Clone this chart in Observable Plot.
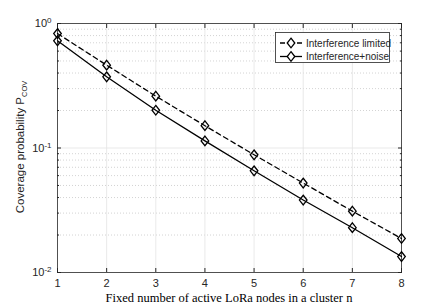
<!DOCTYPE html>
<html>
<head>
<meta charset="utf-8">
<script src="https://cdn.jsdelivr.net/npm/d3@7"></script>
<script src="https://cdn.jsdelivr.net/npm/@observablehq/plot@0.6"></script>
<style>
  html, body { margin: 0; padding: 0; background: #fff; }
  #chart svg { display: block; }
</style>
</head>
<body>
<div id="chart"></div>
<script>
// ---- data ----
const nodes = [1, 2, 3, 4, 5, 6, 7, 8];
const interferenceLimited = [0.83, 0.463, 0.261, 0.151, 0.0882, 0.0523, 0.0311, 0.01875];
const interferenceNoise   = [0.726, 0.373, 0.201, 0.114, 0.0656, 0.0382, 0.0229, 0.01343];
const seriesNames = ["Interference limited", "Interference+noise"];
const yMajorTicks = [0.01, 0.1, 1];
const yTickExponents = ["-2", "-1", "0"];
const yMinorTicks = [0.01, 0.1].flatMap(d => [2,3,4,5,6,7,8,9].map(k => d * k));
const xLabel = "Fixed number of active LoRa nodes in a cluster n";
const yLabelMain = "Coverage probability P";
const yLabelSub = "COV";

const limitedRows = nodes.map((n, i) => ({n, p: interferenceLimited[i]}));
const noiseRows = nodes.map((n, i) => ({n, p: interferenceNoise[i]}));

const tallDiamond = {
  draw(ctx, size) {
    const r = Math.sqrt(size / Math.PI);
    const w = r * 0.95, h = r * 1.2;
    ctx.moveTo(0, -h); ctx.lineTo(w, 0); ctx.lineTo(0, h); ctx.lineTo(-w, 0); ctx.closePath();
  }
};

const axisColor = "#262626";
const font = "'Liberation Sans', Arial, sans-serif";

const chart = Plot.plot({
  width: 443,
  height: 305,
  marginLeft: 57,
  marginRight: 42,
  marginTop: 23,
  marginBottom: 33,
  style: {fontFamily: font, fontSize: "11px", color: axisColor, background: "#fff"},
  x: {domain: [1, 8]},
  y: {type: "log", domain: [0.01, 1]},
  marks: [
    Plot.ruleY(yMinorTicks, {stroke: "#c8c8c8", strokeWidth: 0.8, strokeDasharray: "1,2"}),
    Plot.ruleY([0.1], {stroke: "#e3e3e3", strokeWidth: 0.8}),
    Plot.ruleX(nodes.slice(1, -1), {stroke: "#e3e3e3", strokeWidth: 0.8}),
    Plot.frame({stroke: axisColor, strokeWidth: 0.8}),
    Plot.axisX(nodes, {anchor: "bottom", tickSize: -4, tickPadding: 11, label: null, stroke: axisColor, fill: axisColor, fontSize: 11}),
    Plot.axisX(nodes, {anchor: "top", tickSize: -4, tickFormat: () => "", label: null, stroke: axisColor}),
    Plot.axisY(yMajorTicks, {anchor: "left", tickSize: -4, tickPadding: 10, label: null, stroke: axisColor, fill: axisColor, fontSize: 11,
      tickFormat: d => "10^" + yTickExponents[yMajorTicks.indexOf(d)]}),
    Plot.axisY(yMinorTicks, {anchor: "left", tickSize: -2, tickFormat: () => "", label: null, stroke: axisColor}),
    Plot.axisY(yMajorTicks, {anchor: "right", tickSize: -4, tickFormat: () => "", label: null, stroke: axisColor}),
    Plot.axisY(yMinorTicks, {anchor: "right", tickSize: -2, tickFormat: () => "", label: null, stroke: axisColor}),
    Plot.line(limitedRows, {x: "n", y: "p", stroke: "#000", strokeWidth: 1.3, strokeDasharray: "5,3.5"}),
    Plot.line(noiseRows, {x: "n", y: "p", stroke: "#000", strokeWidth: 1.3}),
    Plot.dot(limitedRows, {x: "n", y: "p", symbol: tallDiamond, r: 4, stroke: "#000", strokeWidth: 1.3, fill: "none"}),
    Plot.dot(noiseRows, {x: "n", y: "p", symbol: tallDiamond, r: 4, stroke: "#000", strokeWidth: 1.3, fill: "none"})
  ]
});

document.getElementById("chart").appendChild(chart);
const svg = d3.select(chart);

// superscript tick labels 10^k
svg.selectAll("text").each(function() {
  const t = d3.select(this);
  const s = t.text();
  if (s.startsWith("10^")) {
    const exp = s.slice(3);
    t.text("");
    t.append("tspan").text("10");
    t.append("tspan").attr("dy", "-0.5em").attr("font-size", "8px").text(exp);
  }
});

// y label
const yl = svg.append("text")
  .attr("transform", "translate(24,147) rotate(-90)")
  .attr("text-anchor", "middle")
  .attr("fill", axisColor)
  .attr("font-family", font)
  .attr("font-size", "11.5px");
yl.append("tspan").text(yLabelMain);
yl.append("tspan").attr("dy", "0.35em").attr("font-size", "7.5px").text(yLabelSub);

// x label
svg.append("text")
  .attr("x", 229).attr("y", 302)
  .attr("text-anchor", "middle")
  .attr("fill", "#000")
  .attr("font-family", "'Liberation Serif', 'DejaVu Serif', serif")
  .attr("font-size", "12.5px")
  .text(xLabel);

// legend
const lg = svg.append("g");
lg.append("rect").attr("x", 275.5).attr("y", 32.5).attr("width", 114).attr("height", 30)
  .attr("fill", "#fff").attr("stroke", axisColor).attr("stroke-width", 0.8);
seriesNames.forEach((name, i) => {
  const y = 43 + i * 13.5;
  lg.append("line").attr("x1", 280).attr("x2", 302).attr("y1", y).attr("y2", y)
    .attr("stroke", "#000").attr("stroke-width", 1.3)
    .attr("stroke-dasharray", i === 0 ? "5,3.5" : null);
  lg.append("path").attr("d", d3.symbol(tallDiamond, 50)()).attr("transform", `translate(291,${y})`)
    .attr("fill", "#fff").attr("stroke", "#000").attr("stroke-width", 1.3);
  lg.append("text").attr("x", 306).attr("y", y + 3.5).attr("text-anchor", "start")
    .attr("fill", axisColor).attr("font-family", font).attr("font-size", "10px").text(name);
});
</script>
</body>
</html>
